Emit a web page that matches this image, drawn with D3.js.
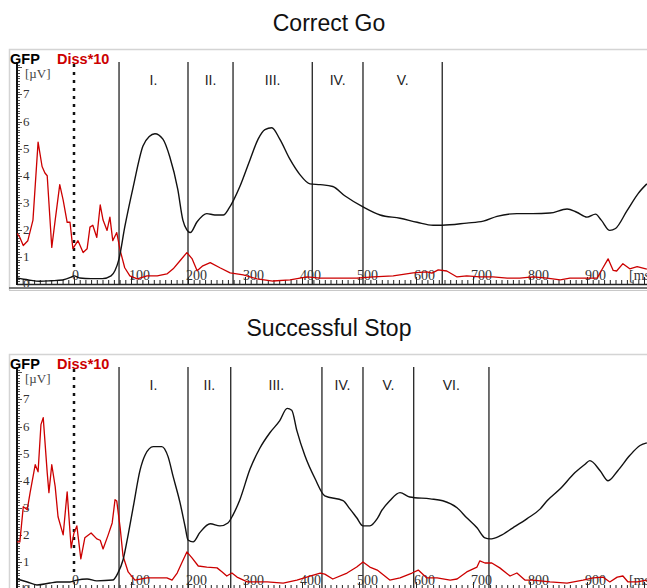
<!DOCTYPE html>
<html>
<head>
<meta charset="utf-8">
<script src="https://cdn.jsdelivr.net/npm/d3@7"></script>
<style>
  body { margin: 0; background: #fff; }
  svg { display: block; }
</style>
</head>
<body>
<div class="graph"></div>
<script>
// time axis (ms) and tick labels
var xTicks = [0, 100, 200, 300, 400, 500, 600, 700, 800, 900];
var yTicks = [0, 1, 2, 3, 4, 5, 6, 7];

// Correct Go
var goTitle = "Correct Go";
var goBounds = [79, 200, 279, 418, 507, 646];
var goLabels = ["I.", "II.", "III.", "IV.", "V."];
var goGfpMs = [-100, -80, -60, -40, -20, -5, 0, 10, 30, 50, 65, 72, 79, 89, 104, 121, 132, 142, 156, 168, 182, 191, 198, 204, 216, 233, 247, 262, 272, 280, 291, 309, 323, 335, 347, 361, 379, 396, 414, 432, 454, 475, 507, 537, 572, 602, 630, 646, 689, 718, 742, 777, 805, 835, 865, 882, 900, 915, 925, 940, 950, 970, 990, 1005];
var goGfp = [0.22, 0.15, 0.1, 0.12, 0.15, 0.25, 0.3, 0.22, 0.2, 0.2, 0.3, 0.5, 0.93, 2.1, 3.6, 5.1, 5.45, 5.55, 5.35, 4.7, 3.5, 2.36, 2.0, 1.9, 2.3, 2.6, 2.55, 2.55, 2.8, 3.1, 3.6, 4.6, 5.35, 5.7, 5.77, 5.35, 4.6, 4.05, 3.7, 3.67, 3.6, 3.26, 2.85, 2.55, 2.43, 2.28, 2.17, 2.17, 2.25, 2.32, 2.5, 2.6, 2.6, 2.62, 2.77, 2.65, 2.47, 2.58, 2.36, 1.98, 2.05, 2.7, 3.35, 3.7];
var goDissMs = [-100, -95, -89, -81, -72, -63, -56, -51, -47, -39, -33, -25, -19, -12, -7, -2, 7, 16, 23, 28, 33, 40, 46, 51, 58, 63, 68, 75, 81, 89, 98, 111, 128, 146, 163, 174, 186, 198, 207, 216, 226, 239, 256, 274, 297, 321, 349, 379, 409, 432, 454, 496, 525, 560, 595, 619, 628, 639, 654, 672, 689, 712, 735, 760, 782, 805, 830, 853, 870, 893, 918, 928, 937, 946, 952, 963, 975, 988, 1005];
var goDiss = [1.87, 1.72, 1.42, 1.6, 2.36, 5.24, 4.34, 4.1, 4.0, 1.35, 2.36, 3.67, 3.1, 2.28, 2.28, 1.31, 1.6, 1.16, 1.3, 2.1, 2.17, 1.72, 2.92, 2.36, 1.98, 2.47, 1.6, 1.9, 1.24, 0.6, 0.3, 0.19, 0.3, 0.3, 0.37, 0.56, 0.86, 1.16, 0.94, 0.49, 0.67, 0.79, 0.6, 0.41, 0.34, 0.19, 0.11, 0.15, 0.26, 0.22, 0.22, 0.22, 0.26, 0.3, 0.41, 0.45, 0.4, 0.52, 0.48, 0.26, 0.3, 0.26, 0.26, 0.22, 0.22, 0.26, 0.22, 0.15, 0.22, 0.22, 0.22, 0.6, 0.93, 0.5, 0.48, 0.75, 0.56, 0.64, 0.55];

// Successful Stop
var stopTitle = "Successful Stop";
var stopBounds = [79, 200, 275, 435, 507, 596, 728];
var stopLabels = ["I.", "II.", "III.", "IV.", "V.", "VI."];
var stopGfpMs = [-100, -82, -65, -42, -30, -7, 5, 23, 40, 68, 77, 86, 95, 104, 116, 125, 139, 154, 165, 174, 186, 195, 200, 209, 221, 239, 256, 270, 279, 291, 309, 326, 344, 361, 374, 382, 391, 405, 423, 440, 472, 484, 496, 507, 519, 532, 540, 554, 572, 589, 625, 647, 672, 689, 707, 721, 730, 747, 770, 795, 818, 830, 853, 879, 896, 905, 923, 937, 954, 975, 993, 1005];
var stopGfp = [0.37, 0.26, 0.15, 0.22, 0.26, 0.26, 0.33, 0.37, 0.3, 0.33, 0.59, 1.07, 2.0, 3.04, 4.4, 4.96, 5.26, 5.26, 4.89, 4.15, 3.19, 2.3, 1.81, 1.74, 2.09, 2.41, 2.33, 2.44, 2.74, 3.3, 4.44, 5.2, 5.78, 6.22, 6.67, 6.6, 5.85, 4.93, 4.07, 3.44, 3.26, 2.96, 2.63, 2.33, 2.33, 2.6, 2.9, 3.26, 3.56, 3.4, 3.33, 3.26, 3.0, 2.63, 2.26, 1.89, 1.85, 1.96, 2.26, 2.6, 2.96, 3.26, 3.7, 4.3, 4.6, 4.74, 4.37, 4.0, 4.37, 4.93, 5.3, 5.4];
var stopDissMs = [-100, -95, -89, -82, -77, -68, -63, -58, -54, -47, -44, -39, -33, -28, -19, -12, -5, 0, 5, 12, 19, 30, 40, 46, 51, 60, 67, 72, 75, 81, 86, 95, 107, 128, 146, 163, 172, 181, 189, 198, 207, 218, 233, 251, 260, 268, 277, 286, 304, 339, 367, 391, 414, 432, 440, 454, 479, 496, 507, 519, 532, 554, 572, 593, 604, 619, 637, 660, 672, 689, 707, 712, 721, 733, 747, 765, 777, 791, 805, 835, 865, 893, 911, 928, 940, 953, 963, 972, 988, 1005];
var stopDiss = [1.74, 1.74, 3.04, 2.93, 3.56, 4.59, 4.33, 6.07, 6.33, 4.3, 3.56, 4.59, 3.78, 2.67, 2.0, 3.59, 1.52, 2.07, 2.33, 1.11, 1.89, 2.07, 1.85, 1.8, 1.48, 2.0, 2.44, 3.3, 3.25, 2.26, 1.22, 0.63, 0.33, 0.41, 0.41, 0.41, 0.33, 0.59, 0.96, 1.37, 1.15, 0.85, 0.81, 0.78, 0.63, 0.48, 0.59, 0.44, 0.26, 0.26, 0.22, 0.33, 0.48, 0.59, 0.55, 0.37, 0.59, 0.81, 1.0, 0.81, 0.7, 0.33, 0.41, 0.59, 0.7, 0.41, 0.41, 0.33, 0.37, 0.63, 0.81, 1.04, 0.96, 0.96, 0.78, 0.48, 0.59, 0.33, 0.33, 0.26, 0.22, 0.33, 0.41, 0.44, 0.26, 0.44, 0.48, 0.26, 0.26, 0.33];

var width = 647;
var height = 588;
var red = "#cc0000";
var serif = "'Liberation Serif', 'DejaVu Serif', serif";
var sans = "'Liberation Sans', Arial, sans-serif";

var svg = d3.select(".graph").append("svg")
  .attr("width", width)
  .attr("height", height);

var x = d3.scaleLinear().domain([-100, 1000]).range([17, 644]);
var y = d3.scaleLinear().domain([0, 8.2]).range([284, 62]);

svg.append("clipPath").attr("id", "plotClip")
  .append("rect")
  .attr("x", 17).attr("y", 50)
  .attr("width", width - 17).attr("height", 236);

function pairs(ms, vals) {
  return ms.map(function (t, i) { return [t, vals[i]]; });
}

function drawPanel(top, title, bounds, labels, gfpMs, gfp, dissMs, diss) {
  svg.append("text")
    .attr("x", 329).attr("y", top - 18)
    .attr("text-anchor", "middle")
    .attr("font-family", sans)
    .attr("font-size", 23)
    .attr("fill", "#111")
    .text(title);

  var g = svg.append("g")
    .attr("transform", "translate(0," + (top - 49) + ")");

  // frame
  g.append("path")
    .attr("d", "M9.5,290 V49.5 H" + width)
    .attr("fill", "none")
    .attr("stroke", "#d4d4d4")
    .attr("stroke-width", 1.5);

  // segment boundaries
  g.selectAll(".seg").data(bounds).enter().append("line")
    .attr("x1", d => x(d)).attr("x2", d => x(d))
    .attr("y1", 62).attr("y2", 284)
    .attr("stroke", "#111")
    .attr("stroke-width", 1.2);

  g.selectAll(".segLabel").data(labels).enter().append("text")
    .attr("x", (d, i) => (x(bounds[i]) + x(bounds[i + 1])) / 2)
    .attr("y", 85)
    .attr("text-anchor", "middle")
    .attr("font-family", sans)
    .attr("font-size", 14)
    .attr("fill", "#222")
    .text(d => d);

  // stimulus onset
  g.append("line")
    .attr("x1", x(0)).attr("x2", x(0))
    .attr("y1", 64).attr("y2", 268)
    .attr("stroke", "#111")
    .attr("stroke-width", 2.5)
    .attr("stroke-dasharray", "3,5");

  // x axis: ruler ticks every 10 ms
  var minor = d3.range(-100, 1010, 10);
  g.selectAll(".xt").data(minor).enter().append("line")
    .attr("x1", d => x(d) + 0.5).attr("x2", d => x(d) + 0.5)
    .attr("y1", 284).attr("y2", d => d % 100 === 0 ? 277 : 280)
    .attr("stroke", "#222");

  g.selectAll(".xl").data(xTicks).enter().append("text")
    .attr("x", d => x(d) - 2)
    .attr("y", 280)
    .attr("font-family", serif)
    .attr("font-size", 14)
    .attr("fill", "#333")
    .text(d => d);

  g.append("text")
    .attr("x", 629).attr("y", 280)
    .attr("font-family", serif)
    .attr("font-size", 14)
    .attr("fill", "#333")
    .text("[ms]");

  g.append("line")
    .attr("x1", 17).attr("x2", width)
    .attr("y1", 284.5).attr("y2", 284.5)
    .attr("stroke", "#222")
    .attr("stroke-width", 1.5);

  // y axis: ruler ticks every 0.1 µV
  var yMinor = d3.range(0, 82).map(d => d / 10);
  g.selectAll(".yt").data(yMinor).enter().append("line")
    .attr("x1", 17).attr("x2", (d, i) => i % 10 === 0 ? 22 : 20)
    .attr("y1", d => Math.round(y(d)) + 0.5).attr("y2", d => Math.round(y(d)) + 0.5)
    .attr("stroke", "#222")
    .attr("stroke-width", 0.8);

  g.selectAll(".yl").data(yTicks).enter().append("text")
    .attr("x", 23)
    .attr("y", d => y(d) + 4)
    .attr("font-family", serif)
    .attr("font-size", 13)
    .attr("fill", "#333")
    .text(d => d);

  g.append("text")
    .attr("x", 25).attr("y", 78)
    .attr("font-family", serif)
    .attr("font-size", 13)
    .attr("fill", "#444")
    .text("[\u00b5V]");

  g.append("line")
    .attr("x1", 17).attr("x2", 17)
    .attr("y1", 62).attr("y2", 285)
    .attr("stroke", "#111")
    .attr("stroke-width", 2);

  // curves
  var line = d3.line()
    .x(d => x(d[0]))
    .y(d => y(d[1]));

  var plot = g.append("g").attr("clip-path", "url(#plotClip)");

  plot.append("path")
    .datum(pairs(dissMs, diss))
    .attr("fill", "none")
    .attr("stroke", red)
    .attr("stroke-width", 1.3)
    .attr("stroke-linejoin", "round")
    .attr("d", line);

  plot.append("path")
    .datum(pairs(gfpMs, gfp))
    .attr("fill", "none")
    .attr("stroke", "#111")
    .attr("stroke-width", 1.4)
    .attr("d", line.curve(d3.curveMonotoneX));

  // bottom border
  g.append("line")
    .attr("x1", 9).attr("x2", width)
    .attr("y1", 288).attr("y2", 288)
    .attr("stroke", "#777")
    .attr("stroke-width", 2);
  g.append("line")
    .attr("x1", 9).attr("x2", width)
    .attr("y1", 290.5).attr("y2", 290.5)
    .attr("stroke", "#c8c8c8")
    .attr("stroke-width", 1);

  // legend
  g.append("text")
    .attr("x", 10).attr("y", 64)
    .attr("font-family", sans)
    .attr("font-weight", "bold")
    .attr("font-size", 14.5)
    .attr("fill", "#000")
    .text("GFP");
  g.append("text")
    .attr("x", 57).attr("y", 64)
    .attr("font-family", sans)
    .attr("font-weight", "bold")
    .attr("font-size", 14.5)
    .attr("fill", red)
    .text("Diss*10");
}

drawPanel(49, goTitle, goBounds, goLabels, goGfpMs, goGfp, goDissMs, goDiss);
drawPanel(354, stopTitle, stopBounds, stopLabels, stopGfpMs, stopGfp, stopDissMs, stopDiss);
</script>
</body>
</html>
